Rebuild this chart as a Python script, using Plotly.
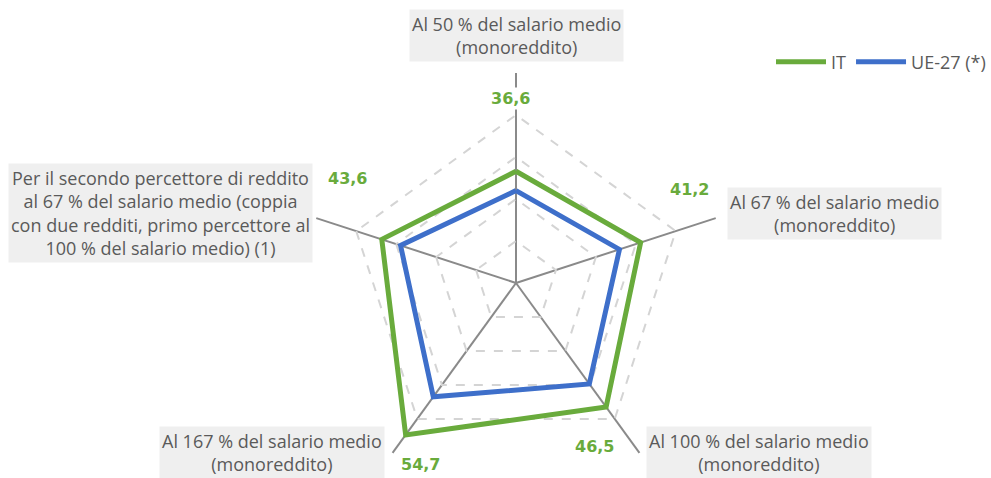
import plotly.graph_objects as go

# ---- data ----
categories = [
    "Al 50 % del salario medio<br>(monoreddito)",
    "Al 67 % del salario medio<br>(monoreddito)",
    "Al 100 % del salario medio<br>(monoreddito)",
    "Al 167 % del salario medio<br>(monoreddito)",
    "Per il secondo percettore di reddito<br>al 67 % del salario medio (coppia<br>con due redditi, primo percettore al<br>100 % del salario medio) (1)",
]
series_names = ["IT", "UE-27 (*)"]
it_values = [36.6, 41.2, 46.5, 54.7, 43.6]
eu_values = [32.0, 35.9, 39.7, 43.5, 38.9]
radial_ticks = [20, 30, 40, 50, 60]

GREEN = "#69ab3c"
BLUE = "#3e6fca"
W, H = 991, 500


def px(x, y):
    return x / W, 1 - y / H


fig = go.Figure()
for name, vals, col in [(series_names[0], it_values, GREEN), (series_names[1], eu_values, BLUE)]:
    fig.add_trace(go.Scatterpolar(
        r=vals + vals[:1],
        theta=categories + categories[:1],
        mode="lines",
        name=name,
        line=dict(color=col, width=5),
        hoverinfo="skip",
    ))

# category labels (grey boxes)
label_pos = [(516, 36), (834, 214), (759, 452), (272, 452), (160, 213)]
for cat, (x, y) in zip(categories, label_pos):
    ax, ay = px(x, y)
    fig.add_annotation(
        x=ax, y=ay, xref="paper", yref="paper", text=cat, showarrow=False,
        font=dict(family="Open Sans", size=18, color="#5a5a5a"),
        bgcolor="#efefef", borderpad=2, align="center",
        xanchor="center", yanchor="middle",
    )

# value labels for IT
value_pos = [(511, 99), (689, 189), (594, 446), (420, 464), (347, 178)]
for v, (x, y) in zip(it_values, value_pos):
    ax, ay = px(x, y)
    fig.add_annotation(
        x=ax, y=ay, xref="paper", yref="paper",
        text="<b>" + f"{v:.1f}".replace(".", ",") + "</b>", showarrow=False,
        font=dict(family="DejaVu Sans", size=16, color=GREEN),
        bgcolor="white", borderpad=1,
        xanchor="center", yanchor="middle",
    )

fig.update_layout(
    width=W, height=H,
    margin=dict(l=0, r=0, t=0, b=0),
    paper_bgcolor="white",
    plot_bgcolor="white",
    font=dict(family="Open Sans", size=18, color="#5a5a5a"),
    showlegend=True,
    legend=dict(
        orientation="h", x=1, xanchor="right", y=px(0, 62)[1], yanchor="middle",
        font=dict(family="Open Sans", size=18, color="#5a5a5a"),
        bgcolor="rgba(0,0,0,0)", itemwidth=50,
    ),
    polar=dict(
        domain=dict(x=[306 / W, 726 / W], y=[(H - 493) / H, (H - 73) / H]),
        bgcolor="white",
        gridshape="linear",
        radialaxis=dict(
            range=[10, 60], tickvals=radial_ticks, showticklabels=False,
            ticks="", showline=False, gridcolor="#d4d4d4", gridwidth=1.5,
            griddash="dash",
        ),
        angularaxis=dict(
            rotation=90, direction="clockwise", showticklabels=False,
            ticks="", showline=False, gridcolor="#8a8a8a", gridwidth=1.5,
        ),
    ),
)

fig.write_html(
    "out.html",
    config={"displayModeBar": False},
    post_script=(
        "document.documentElement.style.overflow='hidden';"
        "document.body.style.overflow='hidden';"
        "document.body.style.margin='0';"
    ),
)
